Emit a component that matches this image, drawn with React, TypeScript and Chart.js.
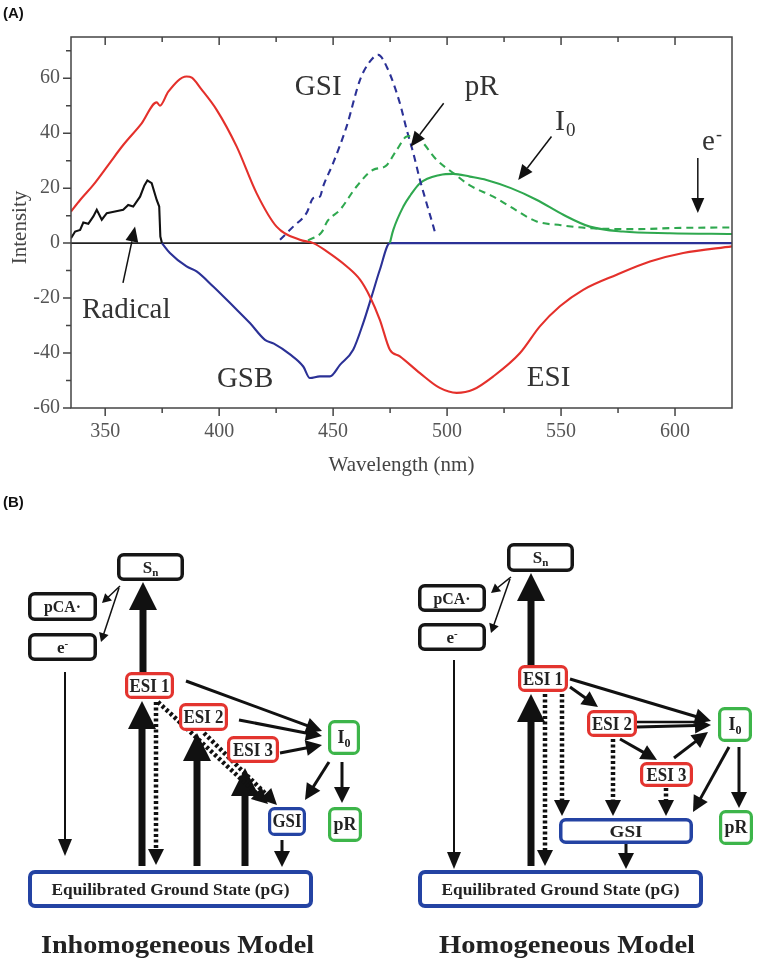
import React, { useEffect, useRef } from "react";
import { Chart, registerables } from "chart.js";
Chart.register(...registerables);

const SERIF = '"Liberation Serif", "Times New Roman", Times, serif';
const SANS = '"Liberation Sans", Arial, sans-serif';

// ---- Panel A data (wavelength in nm, intensity) ----
const esiWl = [335, 339, 344.8, 351.4, 357.9, 366, 372.6, 374, 377.7, 385.7, 388, 392, 398.9, 407.7, 416.4, 425.2, 435.4, 441.3, 447.2, 456, 461.8, 466.1, 470.5, 474.9, 479.3, 488.1, 496.8, 504.2, 511.5, 520.3, 532, 540.7, 549.5, 559.7, 574.4, 589, 603.6, 625];
const esiVal = [11.5, 15.7, 21.2, 28.5, 35.7, 43.6, 51.2, 50.0, 55.1, 60.6, 60.2, 56.2, 48.5, 35.1, 18.2, 6.0, 1.2, 0, -3.0, -8.5, -13.3, -19.4, -27.9, -38.8, -41.2, -47.3, -52.7, -54.5, -53.3, -48.5, -40, -30.3, -23, -17, -11.5, -6.7, -3.6, -1.2];

const radicalWl = [335, 336.8, 339, 340.4, 342.6, 344.8, 346.3, 348.5, 350.7, 354.3, 357.9, 360.1, 362.3, 365.3, 367.2, 368.5, 370.4, 372.6, 373.7, 374.2, 374.9];
const radicalVal = [1.8, 4.2, 4.8, 7.5, 7.0, 9.7, 12.1, 8.5, 10.9, 11.5, 12.1, 13.9, 13.3, 16.9, 21.0, 22.8, 21.8, 15.7, 13.3, 2.4, 0];

const gsbWl = [374.9, 378.4, 385.7, 390.1, 397.4, 406.2, 413.5, 420.1, 424, 431.1, 436.9, 439.8, 444.2, 448.6, 453, 458.8, 463.2, 466.9, 470.5, 474.9, 625];
const gsbVal = [0, -3.6, -8.5, -10.3, -15.8, -23, -29.1, -35.2, -36.6, -40.5, -44.9, -49.1, -48.5, -48.5, -44.3, -38.8, -29.1, -19.4, -9.7, 0, 0];

const gsiWl = [426.7, 432.5, 438.3, 441.4, 444.2, 445.6, 450, 455.9, 461.8, 466.1, 469.8, 473.5, 479.3, 482.3, 485.2, 488.1, 491, 494, 495];
const gsiVal = [1.2, 6, 10.9, 16.4, 16.9, 20.6, 29.1, 42.4, 59.4, 66, 68.5, 64.2, 50.9, 41.2, 32.7, 23, 14.5, 6, 3];

const prWl = [439, 445, 447.5, 453, 460.3, 467.6, 473, 477.9, 482.3, 484.5, 488.1, 495.4, 502.7, 510, 520.3, 527.6, 539.3, 550, 561.2, 583.1, 600, 625];
const prVal = [1, 4, 8, 12.1, 20.6, 26.7, 28, 33.9, 38.8, 39, 37.6, 30.3, 25.5, 21, 16.9, 13.3, 7.9, 6.5, 5.5, 5.1, 5.5, 5.7];

const i0Wl = [474.9, 476.4, 480.8, 484, 488.1, 496.9, 502.7, 510, 517.3, 528, 539.2, 551, 562.6, 577.2, 597.7, 625];
const i0Val = [0, 4.8, 13.3, 17.5, 21.8, 24.8, 25.2, 24.2, 23, 20, 15.8, 10.3, 6, 4.2, 3.6, 3.3];

const xTickValues = [350, 400, 450, 500, 550, 600];
const xMinorValues = [375, 425, 475, 525, 575];
const yTickValues = [-60, -40, -20, 0, 20, 40, 60];
const yMinorValues = [-50, -30, -10, 10, 30, 50, 70];

// annotation labels (data coordinates)
const labelTexts = ["GSI", "pR", "Radical", "GSB", "ESI"];
const labelAt = [[433.2, 54], [507.8, 54], [339.8, -27.2], [399, -52.3], [535, -51.9]];
// arrows [fromX, fromY, toX, toY] in data coordinates
const chartArrows = [
  [498.5, 50.9, 484, 35.1],
  [545.8, 38.8, 531.2, 23],
  [610, 31, 610, 11],
  [357.8, -14.5, 363.1, 6],
];

const RED = "#e4302b";
const BLUE = "#2b3196";
const GREEN = "#2fa84f";

const pts = (xs: number[], ys: number[]) => xs.map((x, i) => ({ x, y: ys[i] }));

function canvasArrow(ctx: CanvasRenderingContext2D, x1: number, y1: number, x2: number, y2: number, len = 15, hw = 6.5) {
  const a = Math.atan2(y2 - y1, x2 - x1);
  const c = Math.cos(a), s = Math.sin(a);
  const bx = x2 - len * c, by = y2 - len * s;
  ctx.beginPath();
  ctx.moveTo(x1, y1);
  ctx.lineTo(bx, by);
  ctx.stroke();
  ctx.beginPath();
  ctx.moveTo(x2, y2);
  ctx.lineTo(bx + hw * s, by - hw * c);
  ctx.lineTo(bx - hw * s, by + hw * c);
  ctx.closePath();
  ctx.fill();
}

const framePlugin = {
  id: "framePlugin",
  beforeDatasetsDraw(chart: any) {
    const { ctx, chartArea: a, scales } = chart;
    const y0 = scales.y.getPixelForValue(0);
    ctx.save();
    ctx.strokeStyle = "#222";
    ctx.lineWidth = 1.6;
    ctx.beginPath();
    ctx.moveTo(a.left, y0);
    ctx.lineTo(a.right, y0);
    ctx.stroke();
    ctx.restore();
  },
  afterDatasetsDraw(chart: any) {
    const { ctx, chartArea: a, scales } = chart;
    const xs = scales.x, ys = scales.y;
    ctx.save();
    ctx.strokeStyle = "#444";
    ctx.lineWidth = 1.5;
    ctx.strokeRect(a.left, a.top, a.right - a.left, a.bottom - a.top);
    ctx.beginPath();
    xTickValues.forEach((v) => {
      const px = xs.getPixelForValue(v);
      ctx.moveTo(px, a.bottom); ctx.lineTo(px, a.bottom + 8);
      ctx.moveTo(px, a.top); ctx.lineTo(px, a.top + 8);
    });
    xMinorValues.forEach((v) => {
      const px = xs.getPixelForValue(v);
      ctx.moveTo(px, a.bottom); ctx.lineTo(px, a.bottom + 5);
      ctx.moveTo(px, a.top); ctx.lineTo(px, a.top + 5);
    });
    yTickValues.forEach((v) => {
      const py = ys.getPixelForValue(v);
      ctx.moveTo(a.left, py); ctx.lineTo(a.left - 8, py);
    });
    yMinorValues.forEach((v) => {
      const py = ys.getPixelForValue(v);
      ctx.moveTo(a.left, py); ctx.lineTo(a.left - 5, py);
    });
    ctx.stroke();

    // axis titles
    ctx.fillStyle = "#444";
    ctx.font = `21px ${SERIF}`;
    ctx.textAlign = "center";
    ctx.textBaseline = "middle";
    ctx.fillText("Wavelength (nm)", (a.left + a.right) / 2, 465);
    ctx.save();
    ctx.translate(20, (a.top + a.bottom) / 2 + 5);
    ctx.rotate(-Math.PI / 2);
    ctx.fillText("Intensity", 0, 0);
    ctx.restore();

    // annotations
    ctx.fillStyle = "#333";
    ctx.textAlign = "left";
    ctx.textBaseline = "alphabetic";
    ctx.font = `29px ${SERIF}`;
    labelTexts.forEach((t, i) => {
      ctx.fillText(t, xs.getPixelForValue(labelAt[i][0]), ys.getPixelForValue(labelAt[i][1]));
    });
    // I0
    const ix = xs.getPixelForValue(547.3), iy = ys.getPixelForValue(41.2);
    ctx.font = `30px ${SERIF}`;
    ctx.fillText("I", ix, iy);
    ctx.font = `19px ${SERIF}`;
    ctx.fillText("0", ix + 11, iy + 6);
    // e-
    const ex = xs.getPixelForValue(611.8), ey = ys.getPixelForValue(33.9);
    ctx.font = `29px ${SERIF}`;
    ctx.fillText("e", ex, ey);
    ctx.font = `18px ${SERIF}`;
    ctx.fillText("-", ex + 14, ey - 10);

    ctx.strokeStyle = "#111";
    ctx.fillStyle = "#111";
    ctx.lineWidth = 1.5;
    chartArrows.forEach(([x1, y1, x2, y2]) => {
      canvasArrow(ctx, xs.getPixelForValue(x1), ys.getPixelForValue(y1), xs.getPixelForValue(x2), ys.getPixelForValue(y2));
    });
    ctx.restore();
  },
};

function SpectrumChart() {
  const ref = useRef<HTMLCanvasElement>(null);
  useEffect(() => {
    if (!ref.current) return;
    const common = { pointRadius: 0, borderWidth: 2.1, fill: false };
    const chart = new Chart(ref.current, {
      type: "line",
      data: {
        datasets: [
          { ...common, label: "pR", data: pts(prWl, prVal), borderColor: GREEN, borderDash: [7, 5], cubicInterpolationMode: "monotone" },
          { ...common, label: "GSI", data: pts(gsiWl, gsiVal), borderColor: BLUE, borderDash: [7, 5], cubicInterpolationMode: "monotone" },
          { ...common, label: "I0", data: pts(i0Wl, i0Val), borderColor: GREEN, cubicInterpolationMode: "monotone" },
          { ...common, label: "ESI", data: pts(esiWl, esiVal), borderColor: RED, cubicInterpolationMode: "monotone" },
          { ...common, label: "GSB", data: pts(gsbWl, gsbVal), borderColor: BLUE, cubicInterpolationMode: "monotone" },
          { ...common, label: "Radical", data: pts(radicalWl, radicalVal), borderColor: "#111", tension: 0 },
        ] as any,
      },
      options: {
        responsive: false,
        animation: false,
        devicePixelRatio: 1,
        parsing: false as any,
        layout: { padding: { left: 0, top: 37, right: 25, bottom: 0 } },
        plugins: { legend: { display: false }, tooltip: { enabled: false }, title: { display: false } },
        scales: {
          x: {
            type: "linear",
            min: 335,
            max: 625,
            grid: { display: false, drawTicks: false },
            border: { display: false },
            afterBuildTicks: (s: any) => { s.ticks = xTickValues.map((v) => ({ value: v })); },
            afterFit: (s: any) => { s.height = 72; },
            ticks: { font: { family: SERIF, size: 20 }, color: "#555", padding: 12, maxRotation: 0, autoSkip: false },
          },
          y: {
            type: "linear",
            min: -60,
            max: 75,
            grid: { display: false, drawTicks: false },
            border: { display: false },
            afterBuildTicks: (s: any) => { s.ticks = yTickValues.map((v) => ({ value: v })); },
            afterFit: (s: any) => { s.width = 71; },
            ticks: { font: { family: SERIF, size: 20 }, color: "#555", padding: 11, autoSkip: false },
          },
        },
      } as any,
      plugins: [framePlugin],
    });
    return () => chart.destroy();
  }, []);
  return <canvas ref={ref} width={757} height={480} style={{ position: "absolute", left: 0, top: 0 }} />;
}

// ---- Panel B diagram helpers ----
type ArrowProps = { x1: number; y1: number; x2: number; y2: number; w?: number; len?: number; hw?: number; dash?: string };
function Arrow({ x1, y1, x2, y2, w = 2, len = 14, hw = 6, dash }: ArrowProps) {
  const a = Math.atan2(y2 - y1, x2 - x1);
  const c = Math.cos(a), s = Math.sin(a);
  const bx = x2 - len * c, by = y2 - len * s;
  return (
    <g>
      <line x1={x1} y1={y1} x2={bx + c} y2={by + s} stroke="#111" strokeWidth={w} strokeDasharray={dash} />
      <polygon points={`${x2},${y2} ${bx + hw * s},${by - hw * c} ${bx - hw * s},${by + hw * c}`} fill="#111" />
    </g>
  );
}

type BoxProps = { x: number; y: number; w: number; h: number; color: string; fs?: number; tl?: number; children: any; sw?: number };
function Box({ x, y, w, h, color, fs = 17, tl, children, sw = 3.5 }: BoxProps) {
  return (
    <g>
      <rect x={x + sw / 2} y={y + sw / 2} width={w - sw} height={h - sw} rx={5} fill="#fff" stroke={color} strokeWidth={sw} />
      <text
        x={x + w / 2}
        y={y + h / 2 + fs * 0.33}
        textAnchor="middle"
        fontFamily={SERIF}
        fontWeight="bold"
        fontSize={fs}
        fill="#222"
        textLength={tl}
        lengthAdjust={tl ? "spacingAndGlyphs" : undefined}
      >
        {children}
      </text>
    </g>
  );
}

const BLK = "#161616";
const BRED = "#e3342f";
const BGREEN = "#3db54a";
const BBLUE = "#2443a3";

const thick = { w: 7, len: 28, hw: 14 };
const med = { w: 3, len: 16, hw: 8 };
const thin = { w: 2, len: 17, hw: 7 };
const tiny = { w: 1.5, len: 9, hw: 5 };
const dotted = { w: 4.5, len: 16, hw: 8, dash: "3 2.5" };

const Sn = () => (<>S<tspan fontSize={11} dy={3}>n</tspan></>);
const Em = () => (<>e<tspan fontSize={11} dy={-6}>-</tspan></>);
const I0 = () => (<>I<tspan fontSize={12} dy={4}>0</tspan></>);

function Diagram() {
  return (
    <svg width={757} height={967} style={{ position: "absolute", left: 0, top: 0 }}>
      <text x={3} y={18} fontFamily={SANS} fontWeight="bold" fontSize={15} fill="#111">(A)</text>
      <text x={3} y={507} fontFamily={SANS} fontWeight="bold" fontSize={15} fill="#111">(B)</text>

      {/* Inhomogeneous model */}
      <g>
        <Arrow x1={120} y1={586} x2={102} y2={603} {...tiny} />
        <Arrow x1={119} y1={588} x2={101} y2={642} {...tiny} />
        <Arrow x1={143} y1={672} x2={143} y2={582} {...thick} />
        <Arrow x1={65} y1={672} x2={65} y2={856} {...thin} />
        <Arrow x1={186} y1={681} x2={322} y2={731} {...med} />
        <Arrow x1={239} y1={720} x2={322} y2={736} {...med} />
        <Arrow x1={280} y1={753} x2={322} y2={745} {...med} />
        <Arrow x1={142} y1={866} x2={142} y2={701} {...thick} />
        <Arrow x1={197} y1={866} x2={197} y2={733} {...thick} />
        <Arrow x1={245} y1={866} x2={245} y2={768} {...thick} />
        <Arrow x1={156} y1={702} x2={156} y2={865} {...dotted} />
        <Arrow x1={158} y1={702} x2={268} y2={804} {...dotted} />
        <Arrow x1={204} y1={733} x2={277} y2={805} {...dotted} />
        <Arrow x1={329} y1={762} x2={305} y2={800} {...med} />
        <Arrow x1={342} y1={762} x2={342} y2={803} {...med} />
        <Arrow x1={282} y1={840} x2={282} y2={867} {...med} />

        <Box x={117} y={553} w={67} h={28} color={BLK}><Sn /></Box>
        <Box x={28} y={592} w={69} h={29} color={BLK} tl={37}>pCA·</Box>
        <Box x={28} y={633} w={69} h={28} color={BLK}><Em /></Box>
        <Box x={125} y={672} w={49} h={27} color={BRED} fs={19} tl={40} sw={3.2}>ESI 1</Box>
        <Box x={179} y={703} w={49} h={28} color={BRED} fs={19} tl={40} sw={3.2}>ESI 2</Box>
        <Box x={227} y={736} w={52} h={27} color={BRED} fs={19} tl={40} sw={3.2}>ESI 3</Box>
        <Box x={328} y={720} w={32} h={35} color={BGREEN} fs={18} sw={3.2}><I0 /></Box>
        <Box x={268} y={807} w={38} h={29} color={BBLUE} fs={18} tl={29} sw={3.2}>GSI</Box>
        <Box x={328} y={807} w={34} h={35} color={BGREEN} fs={18} tl={23} sw={3.2}>pR</Box>
        <Box x={28} y={870} w={285} h={38} color={BBLUE} fs={17} tl={238} sw={4}>Equilibrated Ground State (pG)</Box>
        <text x={41} y={953} fontFamily={SERIF} fontWeight="bold" fontSize={26} fill="#222" textLength={273} lengthAdjust="spacingAndGlyphs">Inhomogeneous Model</text>
      </g>

      {/* Homogeneous model */}
      <g>
        <Arrow x1={511} y1={577} x2={491} y2={593} {...tiny} />
        <Arrow x1={510} y1={579} x2={491} y2={633} {...tiny} />
        <Arrow x1={531} y1={665} x2={531} y2={573} {...thick} />
        <Arrow x1={454} y1={660} x2={454} y2={869} {...thin} />
        <Arrow x1={531} y1={866} x2={531} y2={694} {...thick} />
        <Arrow x1={545} y1={694} x2={545} y2={866} {...dotted} />
        <Arrow x1={562} y1={694} x2={562} y2={816} {...dotted} />
        <Arrow x1={570} y1={687} x2={598} y2={707} {...med} />
        <Arrow x1={570} y1={679} x2={711} y2={721} {...med} />
        <line x1={637} y1={722} x2={700} y2={722} stroke="#111" strokeWidth={2.5} />
        <Arrow x1={637} y1={727} x2={711} y2={725} {...med} />
        <Arrow x1={620} y1={739} x2={657} y2={760} {...med} />
        <Arrow x1={674} y1={758} x2={708} y2={732} {...med} />
        <Arrow x1={613} y1={739} x2={613} y2={816} {...dotted} />
        <Arrow x1={666} y1={788} x2={666} y2={816} {...dotted} />
        <Arrow x1={729} y1={747} x2={693} y2={812} {...med} />
        <Arrow x1={739} y1={747} x2={739} y2={808} {...med} />
        <Arrow x1={626} y1={844} x2={626} y2={869} {...med} />

        <Box x={507} y={543} w={67} h={29} color={BLK}><Sn /></Box>
        <Box x={418} y={584} w={68} h={28} color={BLK} tl={37}>pCA·</Box>
        <Box x={418} y={623} w={68} h={28} color={BLK}><Em /></Box>
        <Box x={518} y={665} w={50} h={27} color={BRED} fs={19} tl={40} sw={3.2}>ESI 1</Box>
        <Box x={587} y={710} w={50} h={27} color={BRED} fs={19} tl={40} sw={3.2}>ESI 2</Box>
        <Box x={640} y={762} w={53} h={25} color={BRED} fs={19} tl={40} sw={3.2}>ESI 3</Box>
        <Box x={718} y={707} w={34} h={35} color={BGREEN} fs={18} sw={3.2}><I0 /></Box>
        <Box x={559} y={818} w={134} h={26} color={BBLUE} fs={17} tl={33} sw={3.5}>GSI</Box>
        <Box x={719} y={810} w={34} h={35} color={BGREEN} fs={18} tl={23} sw={3.2}>pR</Box>
        <Box x={418} y={870} w={285} h={38} color={BBLUE} fs={17} tl={238} sw={4}>Equilibrated Ground State (pG)</Box>
        <text x={439} y={953} fontFamily={SERIF} fontWeight="bold" fontSize={26} fill="#222" textLength={256} lengthAdjust="spacingAndGlyphs">Homogeneous Model</text>
      </g>
    </svg>
  );
}

export default function App() {
  return (
    <div style={{ position: "absolute", left: 0, top: 0, width: 757, height: 967, background: "#fff", overflow: "hidden" }}>
      <SpectrumChart />
      <Diagram />
    </div>
  );
}
